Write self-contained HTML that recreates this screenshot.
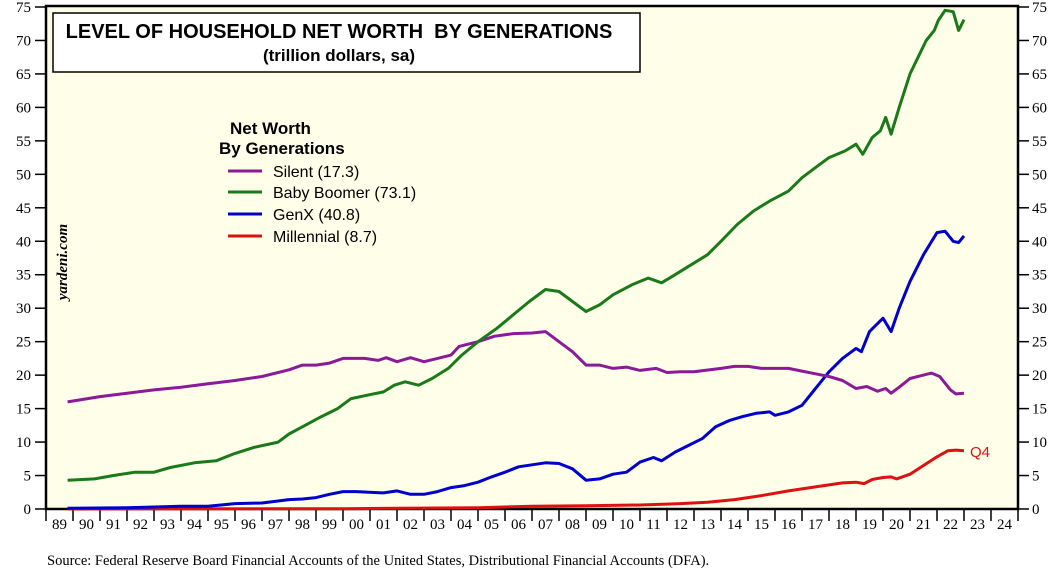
<!DOCTYPE html>
<html><head><meta charset="utf-8"><style>
body{margin:0;background:#fff;}
svg{display:block;font-family:"Liberation Serif",serif;}
</style></head><body>
<svg id="chart" width="1062" height="577" viewBox="0 0 1062 577" xmlns="http://www.w3.org/2000/svg">
<rect x="46" y="6" width="972" height="503" fill="#fffee8" stroke="#000" stroke-width="2.5"/>
<g id="yaxes"></g>
<g id="xaxis"></g>
<g id="series"></g>
<rect x="53" y="13" width="587" height="59" fill="#fff" stroke="#000" stroke-width="1.5"/>
<text x="339" y="38" text-anchor="middle" font-family="Liberation Sans, sans-serif" font-weight="bold" font-size="20" style="white-space:pre">LEVEL OF HOUSEHOLD NET WORTH  BY GENERATIONS</text>
<text x="339" y="61" text-anchor="middle" font-family="Liberation Sans, sans-serif" font-weight="bold" font-size="17">(trillion dollars, sa)</text>
<g font-family="Liberation Sans, sans-serif" font-size="16">
<text x="230" y="134" font-weight="bold" font-size="17">Net Worth</text>
<text x="219" y="154" font-weight="bold" font-size="17">By Generations</text>
<line x1="228" y1="171" x2="262" y2="171" stroke="#8b1a9a" stroke-width="3"/>
<text x="273" y="177">Silent (17.3)</text>
<line x1="228" y1="192" x2="262" y2="192" stroke="#1a7a1a" stroke-width="3"/>
<text x="273" y="198">Baby Boomer (73.1)</text>
<line x1="228" y1="214" x2="262" y2="214" stroke="#0000cc" stroke-width="3"/>
<text x="273" y="220">GenX (40.8)</text>
<line x1="228" y1="236" x2="262" y2="236" stroke="#dd1111" stroke-width="3"/>
<text x="273" y="242">Millennial (8.7)</text>
</g>
<text transform="translate(67,262) rotate(-90)" text-anchor="middle" font-weight="bold" font-style="italic" font-size="15">yardeni.com</text>
<text x="970" y="457" fill="#dd1111" font-family="Liberation Sans, sans-serif" font-size="15">Q4</text>
<text x="47" y="565" font-size="14.5">Source: Federal Reserve Board Financial Accounts of the United States, Distributional Financial Accounts (DFA).</text>
</svg>
<script>
const yTicks=[0,5,10,15,20,25,30,35,40,45,50,55,60,65,70,75];
const yearLabels=["89","90","91","92","93","94","95","96","97","98","99","00","01","02","03","04","05","06","07","08","09","10","11","12","13","14","15","16","17","18","19","20","21","22","23","24"];
const silentT=[1989.8,1991,1992,1993,1994,1995,1996,1997,1998,1998.5,1999,1999.5,2000,2000.8,2001.3,2001.6,2002,2002.5,2003,2003.5,2004,2004.3,2005,2005.6,2006.3,2007,2007.5,2008,2008.5,2009,2009.5,2010,2010.5,2011,2011.6,2012,2012.5,2013,2014,2014.5,2015,2015.5,2016.5,2017,2017.5,2018,2018.5,2019,2019.4,2019.8,2020.1,2020.3,2020.6,2021,2021.5,2021.8,2022.1,2022.5,2022.7,2023];
const silentV=[16.0,16.8,17.3,17.8,18.2,18.7,19.2,19.8,20.8,21.5,21.5,21.8,22.5,22.5,22.2,22.6,22.0,22.6,22.0,22.5,23.0,24.3,25.0,25.8,26.2,26.3,26.5,25.0,23.5,21.5,21.5,21.0,21.2,20.7,21.0,20.4,20.5,20.5,21.0,21.3,21.3,21.0,21.0,20.6,20.2,19.8,19.2,18.0,18.3,17.6,18.0,17.3,18.2,19.5,20.0,20.3,19.8,17.8,17.2,17.3];
const boomerT=[1989.8,1990.8,1991.5,1992.3,1993,1993.6,1994.5,1995.3,1996,1996.7,1997.6,1998,1998.6,1999.2,1999.8,2000.3,2000.9,2001.5,2001.9,2002.3,2002.8,2003.3,2003.9,2004.4,2005,2005.7,2006.3,2006.9,2007.5,2008,2008.5,2009,2009.5,2010,2010.7,2011.3,2011.8,2012.3,2012.9,2013.5,2014,2014.6,2015.2,2015.8,2016.5,2017,2017.5,2018,2018.6,2019.0,2019.25,2019.6,2019.9,2020.1,2020.3,2020.6,2021,2021.3,2021.6,2021.9,2022.05,2022.3,2022.6,2022.8,2023];
const boomerV=[4.3,4.5,5.0,5.5,5.5,6.2,6.9,7.2,8.3,9.2,10.0,11.2,12.5,13.8,15.0,16.5,17.0,17.5,18.5,19.0,18.5,19.5,21.0,23.0,25.0,27.0,29.0,31.0,32.8,32.5,31.0,29.5,30.5,32.0,33.5,34.5,33.8,35.0,36.5,38.0,40.0,42.5,44.5,46.0,47.5,49.5,51.0,52.5,53.5,54.5,53.0,55.5,56.5,58.5,56.0,60.0,65.0,67.5,70.0,71.5,73.0,74.5,74.3,71.5,73.1];
const genxT=[1989.8,1992,1994,1995,1996,1997,1998,1998.5,1999,1999.5,2000,2000.5,2001.5,2002,2002.5,2003,2003.5,2004,2004.5,2005,2005.5,2006,2006.5,2007.5,2008,2008.5,2009,2009.5,2010,2010.5,2011,2011.5,2011.8,2012.3,2012.8,2013.3,2013.8,2014.3,2014.8,2015.3,2015.8,2016,2016.5,2017,2017.5,2018,2018.5,2019,2019.2,2019.5,2020,2020.3,2020.6,2021,2021.5,2022,2022.3,2022.6,2022.8,2023];
const genxV=[0.1,0.2,0.4,0.4,0.8,0.9,1.4,1.5,1.7,2.2,2.6,2.6,2.4,2.7,2.2,2.2,2.6,3.2,3.5,4.0,4.8,5.5,6.3,6.9,6.8,6.0,4.3,4.5,5.2,5.5,7.0,7.7,7.2,8.5,9.5,10.5,12.3,13.2,13.8,14.3,14.5,14.0,14.5,15.5,18.0,20.5,22.5,24.0,23.5,26.5,28.5,26.5,30.0,34.0,38.0,41.3,41.5,40.0,39.8,40.8];
const millT=[1989.8,2000,2005,2007,2009,2011,2012.5,2013.5,2014.5,2015.5,2016.5,2017.5,2018.5,2019.0,2019.3,2019.6,2020,2020.3,2020.5,2021,2021.5,2022,2022.4,2022.7,2023];
const millV=[0.0,0.05,0.2,0.4,0.5,0.6,0.8,1.0,1.4,2.0,2.7,3.3,3.9,4.0,3.8,4.4,4.7,4.8,4.5,5.2,6.5,7.8,8.7,8.8,8.7];

const NS="http://www.w3.org/2000/svg";
const X0=46,X1=1018,Y0=509,Y1=7;
function xs(t){return X0+(t-1989)*(X1-X0)/36;}
function ys(v){return Y0-v*(Y0-Y1)/75;}
function mk(tag,attrs,parent){const e=document.createElementNS(NS,tag);for(const k in attrs)e.setAttribute(k,attrs[k]);parent.appendChild(e);return e;}
const ya=document.getElementById('yaxes');
yTicks.forEach(v=>{
  const y=ys(v);
  const l1=mk('line',{x1:35,x2:46,y1:y,y2:y,stroke:'#000','stroke-width':1.5},ya);
  
  
  const l2=mk('line',{x1:1018,x2:1029,y1:y,y2:y,stroke:'#000','stroke-width':1.5},ya);
  
  
  const t1=mk('text',{x:31,y:y+5,'text-anchor':'end','font-size':15},ya);t1.textContent=v;
  
  
  const t2=mk('text',{x:1032,y:y+5,'font-size':15},ya);t2.textContent=v;
  
  
});
const xa=document.getElementById('xaxis');
yearLabels.forEach((lab,i)=>{
  const x=xs(1989+i);
  const tk=mk('line',{x1:x,x2:x,y1:509,y2:521,stroke:'#000','stroke-width':1.5},xa);
  
  
  const t=mk('text',{x:x+13.5,y:529,'text-anchor':'middle','font-size':15},xa);t.textContent=lab;
  
  
});
const lastTk=mk('line',{x1:1018,x2:1018,y1:509,y2:521,stroke:'#000','stroke-width':1.5},xa);


const sg=document.getElementById('series');
function line(T,V,color,name){
  const d=T.map((t,i)=>(i?'L':'M')+xs(t).toFixed(1)+','+ys(V[i]).toFixed(1)).join(' ');
  const p=mk('path',{d:d,fill:'none',stroke:color,'stroke-width':3,'stroke-linejoin':'round'},sg);
  
  
}
line(millT,millV,'#dd1111','millennial-line');
line(genxT,genxV,'#0000cc','genx-line');
line(silentT,silentV,'#8b1a9a','silent-line');
line(boomerT,boomerV,'#1a7a1a','boomer-line');
</script>
</body></html>
